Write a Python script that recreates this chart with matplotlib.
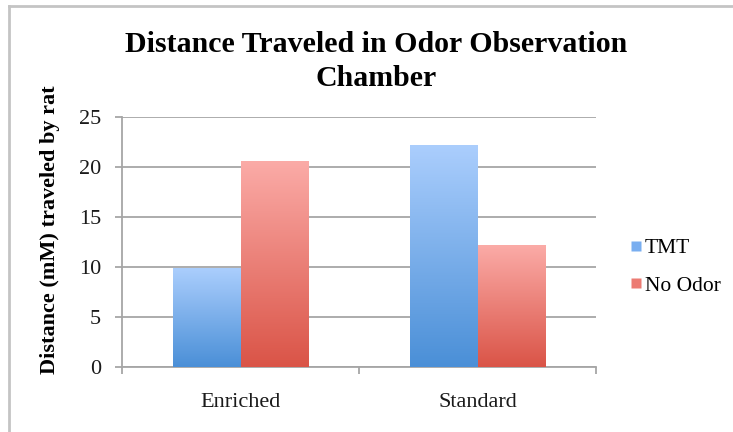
import numpy as np
import matplotlib
matplotlib.use("Agg")
import matplotlib.pyplot as plt
from matplotlib.colors import LinearSegmentedColormap
from matplotlib.lines import Line2D

# Data
categories = ["Enriched", "Standard"]
series_names = ["TMT", "No Odor"]
tmt = [9.8, 22.1]
no_odor = [20.5, 12.1]
y_ticks = [0, 5, 10, 15, 20, 25]

FONT = "Liberation Serif"
plt.rcParams["font.family"] = [FONT, "DejaVu Serif"]

fig = plt.figure(figsize=(7.33, 4.32), dpi=100)
ax = fig.add_axes([122 / 733, 1 - 367 / 432, 474 / 733, 250 / 432])

# gradient fills: (top colour, bottom colour)
grad = {
    "TMT": ("#abcefd", "#4a8fd7"),
    "No Odor": ("#fbaba7", "#da5447"),
}

x = np.arange(len(categories))
w = 0.285
series = [tmt, no_odor]
offsets = [-w / 2, w / 2]

ax.set_xlim(-0.5, len(categories) - 0.5)
ax.set_ylim(0, 25)

for name, vals, off in zip(series_names, series, offsets):
    top_c, bot_c = grad[name]
    cmap = LinearSegmentedColormap.from_list(name, [bot_c, top_c])
    bars = ax.bar(x + off, vals, w, color="none", edgecolor="none", zorder=3)
    for b in bars:
        x0, y0 = b.get_x(), b.get_y()
        bw, bh = b.get_width(), b.get_height()
        g = np.linspace(0, 1, 256).reshape(-1, 1)
        ax.imshow(g, cmap=cmap, origin="lower", aspect="auto",
                  extent=(x0, x0 + bw, y0, y0 + bh), zorder=3,
                  interpolation="bicubic")

ax.set_xlim(-0.5, len(categories) - 0.5)
ax.set_ylim(0, 25)

# axes styling
grid_c = "#a6a6a6"
text_c = "#1a1a1a"
ax.set_yticks(y_ticks)
ax.set_yticklabels([str(t) for t in y_ticks], fontsize=16, color=text_c)
ax.yaxis.grid(True, color=grid_c, linewidth=1.3, zorder=0)
ax.set_axisbelow(True)
ax.tick_params(axis="y", length=5, width=1.3, color=grid_c, pad=10)

ax.set_xticks(x)
ax.set_xticklabels(categories, fontsize=16, color=text_c)
ax.set_xticks(np.arange(-0.5, len(categories)), minor=True)
ax.tick_params(axis="x", which="major", length=0, pad=19)
ax.tick_params(axis="x", which="minor", length=5, width=1.3, color=grid_c)

for s in ["top", "right"]:
    ax.spines[s].set_visible(False)
for s in ["left", "bottom"]:
    ax.spines[s].set_color(grid_c)
    ax.spines[s].set_linewidth(1.3)

# title and axis label
fig.text(376 / 733, 1 - 52 / 432, "Distance Traveled in Odor Observation",
         ha="center", va="baseline", fontsize=21.5, fontweight="bold")
fig.text(376 / 733, 1 - 86 / 432, "Chamber",
         ha="center", va="baseline", fontsize=21.5, fontweight="bold")
fig.text(50 / 733, 1 - 230 / 432, "Distance (mM) traveled by rat",
         ha="center", va="center", rotation=90, fontsize=16, fontweight="bold")

# legend
handles = [Line2D([0], [0], marker="s", linestyle="none", markersize=7,
                  markeredgecolor="none")
           for n in series_names]
handles[0].set_markerfacecolor("#79aef0")
handles[1].set_markerfacecolor("#ec7b73")
fig.legend(handles, series_names, loc="center left",
           bbox_to_anchor=(619 / 733, 1 - 267 / 432), frameon=False,
           fontsize=15.5, handlelength=0.8, handletextpad=0.0,
           labelspacing=0.8, borderaxespad=0)

# outer frame lines
fig.add_artist(Line2D([9 / 733, 9 / 733], [0, 1 - 6 / 432],
                      color="#c4c4c4", linewidth=2, transform=fig.transFigure))
fig.add_artist(Line2D([9 / 733, 1], [1 - 6 / 432, 1 - 6 / 432],
                      color="#c4c4c4", linewidth=2, transform=fig.transFigure))

fig.savefig("out.png", dpi=100)
